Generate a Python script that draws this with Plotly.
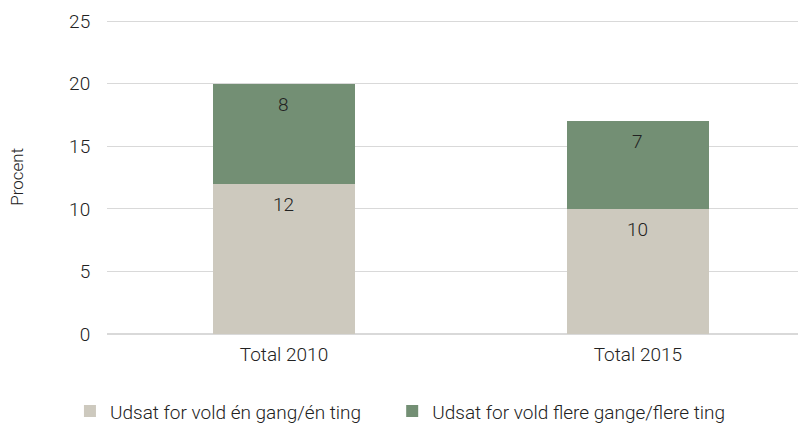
import plotly.graph_objects as go

# data
years = ["Total 2010", "Total 2015"]
once_vals = [12, 10]
several_vals = [8, 7]
once_name = "Udsat for vold én gang/én ting"
several_name = "Udsat for vold flere gange/flere ting"

FONT = "Roboto, Arial, sans-serif"
TXT = "#222222"
FS = 19

fig = go.Figure()
fig.add_trace(go.Bar(
    x=years, y=once_vals, name=once_name,
    marker=dict(color="#cdc9be", line=dict(width=0)),
    width=0.4, legend="legend", showlegend=True,
))
fig.add_trace(go.Bar(
    x=years, y=several_vals, name=several_name,
    marker=dict(color="#738f74", line=dict(width=0)),
    width=0.4, legend="legend2", showlegend=True,
))

# value labels near the top of each segment
annotations = []
for cat, a, b in zip(years, once_vals, several_vals):
    for val, top in ((a, a), (b, a + b)):
        annotations.append(dict(
            x=cat, y=top, text=str(val), showarrow=False,
            xref="x", yref="y", yanchor="top", yshift=-7,
            font=dict(size=FS, color=TXT, family=FONT, weight=300),
        ))

# y axis title as a rotated annotation (easier to place)
annotations.append(dict(
    text="Procent", x=-0.129, y=0.5, xref="paper", yref="paper",
    xanchor="center", yanchor="middle", textangle=-90, showarrow=False,
    font=dict(size=FS - 2, color=TXT, family=FONT, weight=300),
))

leg = dict(
    orientation="h", xanchor="left", y=-0.246, yanchor="middle",
    font=dict(size=FS, color=TXT, weight=300), itemwidth=30,
    bgcolor="rgba(0,0,0,0)",
)

# page has an 8px body margin, so the figure is a bit smaller than the window
fig.update_layout(
    barmode="stack",
    showlegend=True,
    width=798, height=415,
    margin=dict(l=99, r=0, t=12, b=89, autoexpand=False),
    paper_bgcolor="white", plot_bgcolor="white",
    font=dict(family=FONT, size=FS, color=TXT, weight=300),
    annotations=annotations,
    legend=dict(leg, x=-0.053),
    legend2=dict(leg, x=0.408),
    xaxis=dict(
        range=[-0.5, 1.475], showgrid=False, showline=False,
        ticks="outside", ticklen=3, tickcolor="rgba(0,0,0,0)",
        tickfont=dict(size=FS, color=TXT, weight=300),
        automargin=False,
    ),
    yaxis=dict(
        range=[0, 25.1], tickvals=[0, 5, 10, 15, 20, 25], showgrid=True,
        gridcolor="#d9d9d9", gridwidth=1, zeroline=True, zerolinecolor="#d9d9d9",
        ticks="outside", ticklen=12, tickcolor="rgba(0,0,0,0)",
        tickfont=dict(size=FS, color=TXT, weight=300),
        automargin=False,
    ),
)

fig.write_html("out.html")
